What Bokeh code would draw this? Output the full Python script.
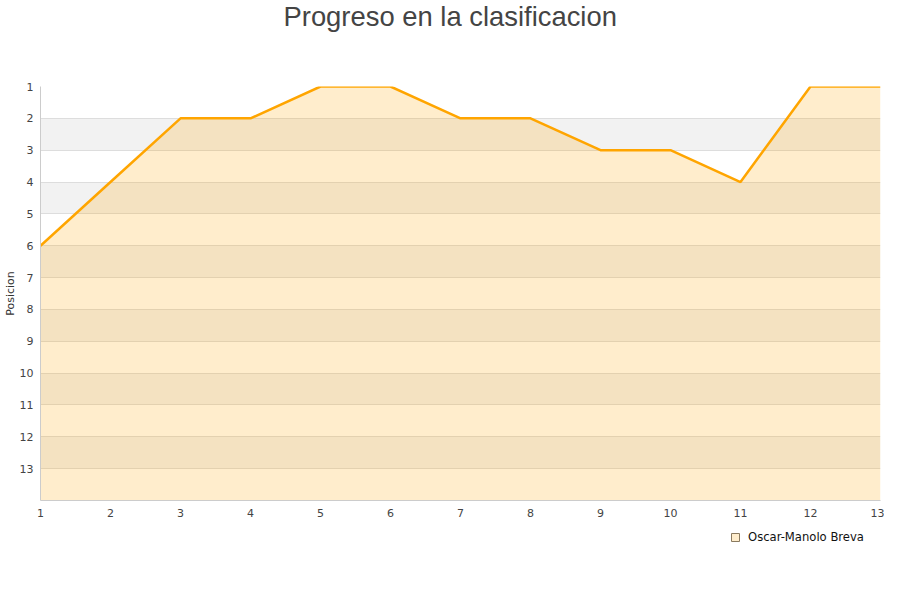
from bokeh.plotting import figure
from bokeh.models import Range1d, FixedTicker, Legend, LegendItem
from bokeh.layouts import column
from bokeh.embed import file_html
from bokeh.resources import INLINE

jornadas = list(range(1, 14))
posicion = [6, 4, 2, 2, 1, 1, 2, 2, 3, 3, 4, 1, 1]
y_ticks = list(range(1, 14))
x_ticks = list(range(1, 14))
fondo = [14] * len(jornadas)
series_name = "Oscar-Manolo Breva"
title_text = "Progreso en la clasificacion"
y_label = "Posicion"

# ---- title strip ----
tfig = figure(width=884, height=78, output_backend="svg", toolbar_location=None,
              x_axis_type=None, y_axis_type=None, min_border=0,
              min_border_left=16, min_border_right=0)
tfig.outline_line_color = None
tfig.title.text = title_text
tfig.title.align = "left"
tfig.title.offset = 243
tfig.title.vertical_align = "top"
tfig.title.standoff = 0
tfig.title.text_font = "Liberation Sans"
tfig.title.text_font_size = "27.4px"
tfig.title.text_font_style = "normal"
tfig.title.text_color = "#444444"

# ---- main chart ----
p = figure(width=884, height=447, output_backend="svg", toolbar_location=None,
           x_range=Range1d(1, 13), y_range=Range1d(14, 1),
           min_border_left=40, min_border_right=4, min_border_top=8,
           min_border_bottom=25)
p.outline_line_color = None
p.background_fill_color = "white"

p.xgrid.grid_line_color = None
p.ygrid.ticker = FixedTicker(ticks=y_ticks)
p.ygrid.grid_line_color = "#DDDDDD"
p.ygrid.band_fill_color = "#F2F2F2"
p.ygrid.band_fill_alpha = 1.0

p.yaxis.ticker = FixedTicker(ticks=y_ticks)
p.xaxis.ticker = FixedTicker(ticks=x_ticks)
for ax in (p.xaxis[0], p.yaxis[0]):
    ax.major_tick_line_color = None
    ax.minor_tick_line_color = None
    ax.axis_line_color = "#CCCCCC"
    ax.major_label_text_font = "DejaVu Sans"
    ax.major_label_text_font_size = "11px"
    ax.major_label_text_color = "#444444"
    ax.major_tick_out = 0
    ax.major_tick_in = 0
p.xaxis.major_label_standoff = 8
p.yaxis.major_label_standoff = 7
p.yaxis.axis_label = y_label
p.yaxis.axis_label_text_font = "DejaVu Sans"
p.yaxis.axis_label_text_font_size = "11px"
p.yaxis.axis_label_text_font_style = "normal"
p.yaxis.axis_label_text_color = "#333333"
p.yaxis.axis_label_standoff = 0

p.varea(x=jornadas, y1=posicion, y2=fondo, fill_color="#FFA500", fill_alpha=0.2)
p.line(x=jornadas, y=posicion, line_color="#FFA500", line_width=2.5)

# ---- legend strip (frame is aligned with main frame: 40..880) ----
lfig = figure(width=884, height=59, output_backend="svg", toolbar_location=None,
              x_axis_type=None, y_axis_type=None, min_border=0,
              x_range=Range1d(1, 13), y_range=Range1d(14, 1))
lfig.outline_line_color = None
swatch = lfig.quad(left=jornadas[:1], right=jornadas[1:2], top=posicion[:1],
                   bottom=fondo[:1], fill_color="#FFEDCC",
                   line_color="#8A7A60", line_width=1, visible=False)
legend = Legend(items=[LegendItem(label=series_name, renderers=[swatch])],
                location=(690, 40))
legend.glyph_width = 10
legend.glyph_height = 10
legend.padding = 0
legend.margin = 0
legend.spacing = 0
legend.label_standoff = 8
legend.label_text_font = "DejaVu Sans"
legend.label_text_font_size = "11.6px"
legend.label_text_color = "#111111"
legend.border_line_color = None
legend.background_fill_alpha = 0
legend.inactive_fill_alpha = 0
lfig.add_layout(legend, "center")

layout = column(tfig, p, lfig, spacing=0)
open("out.html", "w").write(file_html(layout, INLINE))
